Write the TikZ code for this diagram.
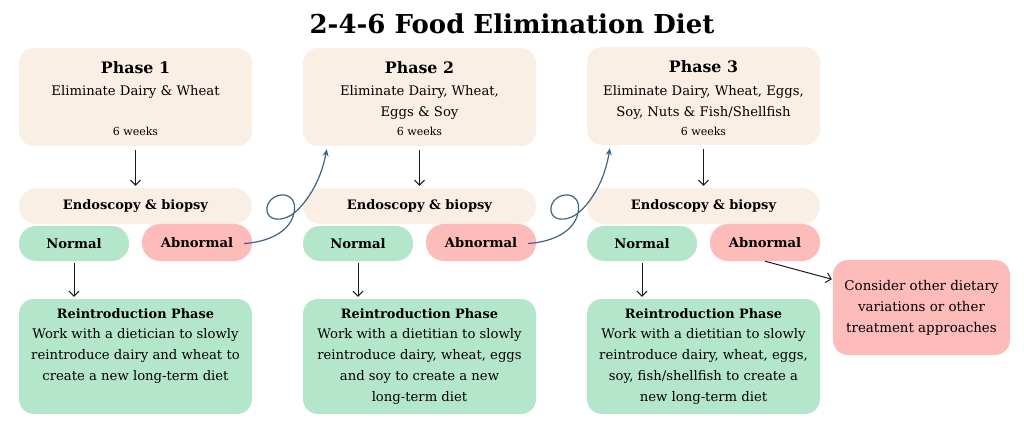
\documentclass[tikz,border=0pt]{standalone}
\usepackage{fontspec}
\setmainfont{DejaVu Serif}
\usetikzlibrary{arrows.meta}
\definecolor{beige}{HTML}{FAEFE5}
\definecolor{mint}{HTML}{B4E6CB}
\definecolor{rose}{HTML}{FDBBBA}
\definecolor{loopblue}{HTML}{3F6481}
\definecolor{ink}{HTML}{1A1A1A}
\begin{document}
\begin{tikzpicture}[x=1pt,y=-1pt,
  phasebox/.style={fill=beige,rounded corners=15pt,minimum width=233pt,minimum height=98pt,inner sep=0pt},
  endobox/.style={fill=beige,rounded corners=18pt,minimum width=233pt,minimum height=36pt,inner sep=0pt,font=\fontsize{13}{17}\selectfont\bfseries},
  normbox/.style={fill=mint,rounded corners=17pt,minimum width=110pt,minimum height=35pt,inner sep=0pt,font=\fontsize{13.2}{18}\selectfont\bfseries},
  abnbox/.style={fill=rose,rounded corners=18pt,minimum width=110pt,minimum height=37pt,inner sep=0pt,font=\fontsize{13.2}{18}\selectfont\bfseries},
  reintrobox/.style={fill=mint,rounded corners=15pt,minimum width=233pt,minimum height=115pt,inner sep=0pt},
  considerbox/.style={fill=rose,rounded corners=15pt,minimum width=177pt,minimum height=95pt,inner sep=0pt,align=center,font=\fontsize{13.4}{21}\selectfont},
  ptitle/.style={font=\fontsize{15.8}{22}\selectfont\bfseries,inner sep=0pt},
  body/.style={font=\fontsize{13.2}{21}\selectfont,align=center,inner sep=0pt},
  weeks/.style={font=\fontsize{11}{13}\selectfont,inner sep=0pt},
  rtitle/.style={font=\fontsize{12.9}{18}\selectfont\bfseries,inner sep=0pt},
  arr/.style={draw=ink,line width=1pt,-{Straight Barb[length=5pt,width=10pt]}},
  looparr/.style={draw=loopblue,line width=1.2pt,-{Stealth[length=7pt,width=6pt]}}
]
\useasboundingbox (0,0) rectangle (1024,438);

\node[font=\fontsize{26}{30}\selectfont\bfseries,inner sep=0pt] (title) at (512,24) {2-4-6 Food Elimination Diet};

% Column 1
\node[phasebox] (p1) at (135.5,97) {};
\node[ptitle] (p1t) at (135.5,68) {Phase 1};
\node[body] (p1b) at (135.5,92) {Eliminate Dairy \& Wheat};
\node[weeks] (p1w) at (135.5,131) {6 weeks};
\node[endobox] (e1) at (135.5,206) {Endoscopy \& biopsy};
\node[normbox] (n1) at (74,243.5) {Normal};
\node[abnbox] (a1) at (197,242.5) {Abnormal};
\node[reintrobox] (r1) at (135.5,356.5) {};
\node[rtitle] (r1t) at (135.5,314) {Reintroduction Phase};
\node[body] (r1b) at (135.5,356) {Work with a dietician to slowly\\reintroduce dairy and wheat to\\create a new long-term diet};

% Column 2
\node[phasebox] (p2) at (419.5,97) {};
\node[ptitle] (p2t) at (419.5,68) {Phase 2};
\node[body] (p2b) at (419.5,102.5) {Eliminate Dairy, Wheat,\\Eggs \& Soy};
\node[weeks] (p2w) at (419.5,131) {6 weeks};
\node[endobox] (e2) at (419.5,206) {Endoscopy \& biopsy};
\node[normbox] (n2) at (358,243.5) {Normal};
\node[abnbox] (a2) at (481,242.5) {Abnormal};
\node[reintrobox] (r2) at (419.5,356.5) {};
\node[rtitle] (r2t) at (419.5,314) {Reintroduction Phase};
\node[body] (r2b) at (419.5,366.5) {Work with a dietitian to slowly\\reintroduce dairy, wheat, eggs\\and soy to create a new\\long-term diet};

% Column 3
\node[phasebox] (p3) at (703.5,96) {};
\node[ptitle] (p3t) at (703.5,67) {Phase 3};
\node[body] (p3b) at (703.5,102) {Eliminate Dairy, Wheat, Eggs,\\Soy, Nuts \& Fish/Shellfish};
\node[weeks] (p3w) at (703.5,131) {6 weeks};
\node[endobox] (e3) at (703.5,206) {Endoscopy \& biopsy};
\node[normbox] (n3) at (642,243.5) {Normal};
\node[abnbox] (a3) at (765,242.5) {Abnormal};
\node[reintrobox] (r3) at (703.5,356.5) {};
\node[rtitle] (r3t) at (703.5,314) {Reintroduction Phase};
\node[body] (r3b) at (703.5,366.5) {Work with a dietitian to slowly\\reintroduce dairy, wheat, eggs,\\soy, fish/shellfish to create a\\new long-term diet};

\node[considerbox] (c) at (921.5,307.5) {Consider other dietary\\variations or other\\treatment approaches};

% straight arrows
\foreach \i in {1,2,3}{
  \draw[arr,shorten <=4pt,shorten >=2pt] (p\i.south) -- (e\i.north);
  \draw[arr,shorten <=2pt,shorten >=2pt] (n\i.south) -- (n\i.south |- r\i.north);
}
\draw[arr,shorten >=1pt] (a3.south) -- ([yshift=28pt]c.west);

% loop arrows
\draw[looparr] ([xshift=-8pt,yshift=-1pt]a1.east) .. controls (268,242) and (290,232) .. (294,213)
  .. controls (297,200) and (289,194) .. (281,195)
  .. controls (271,196) and (264,206) .. (268,214)
  .. controls (272,222) and (286,220) .. (294,213)
  .. controls (304,205) and (320,185) .. ([xshift=24pt,yshift=-3pt]p2.south west);
\draw[looparr] ([xshift=-8pt,yshift=-1pt]a2.east) .. controls (552,242) and (574,232) .. (578,213)
  .. controls (581,200) and (573,194) .. (565,195)
  .. controls (555,196) and (548,206) .. (552,214)
  .. controls (556,222) and (570,220) .. (578,213)
  .. controls (588,205) and (604,185) .. ([xshift=23pt,yshift=-3pt]p3.south west);
\end{tikzpicture}
\end{document}
